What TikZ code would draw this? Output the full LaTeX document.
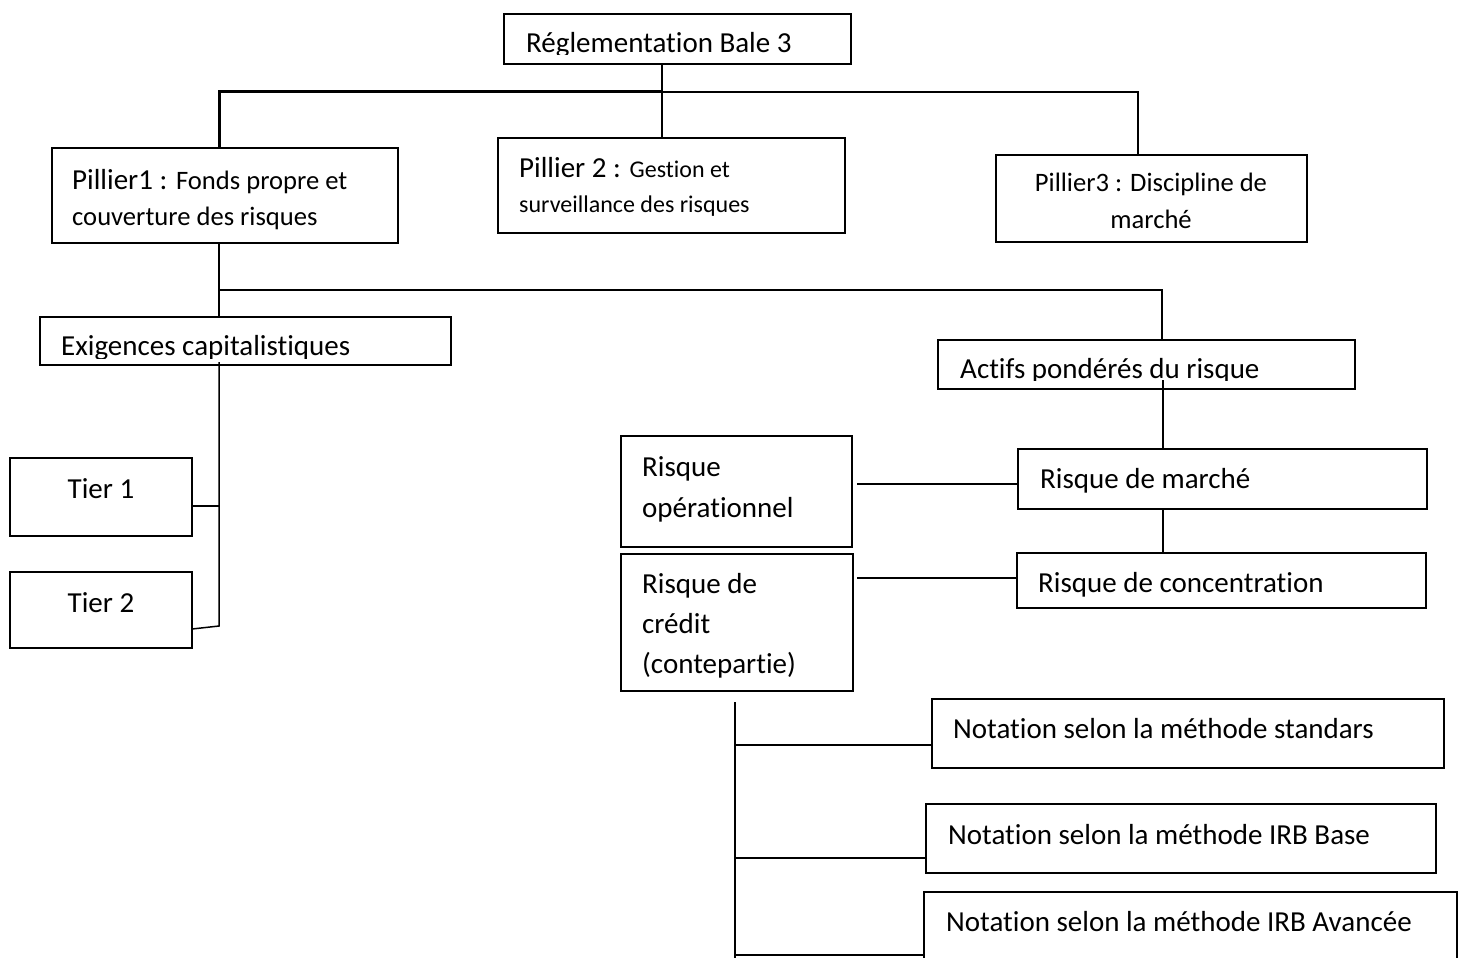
\documentclass[tikz,border=0pt]{standalone}
\usepackage{fontspec}
\setmainfont{Carlito}[Ligatures=CommonOff]
% box given by its corners: name, x1, y1, x2, y2
\newcommand\rbox[5]{\node[box, minimum width={(#4-#2)*1pt}, minimum height={(#5-#3)*1pt}] (#1) at (#2,#3) {};}
% smaller sizes used inside the pillar labels
\newcommand\midsize[1]{{\fontsize{26.6}{32}\selectfont #1}}
\newcommand\smlsize[1]{{\fontsize{24}{30}\selectfont #1}}
\begin{document}
\begin{tikzpicture}[x=1pt,y=-1pt,
  box/.style={draw, line width=1.5pt, inner sep=0pt, outer sep=0pt, anchor=north west},
  lbl/.style={anchor=base west, inner sep=0pt, font=\fontsize{29}{35}\selectfont},
  ctr/.style={lbl, anchor=base},
  link/.style={line width=1.5pt},
  bus/.style={line width=3pt}]
\clip (0,0) rectangle (1460,958);

% ---- boxes
\rbox{bale}{504}{14}{851}{64}
\rbox{p1}{52}{148}{398}{243}
\rbox{p2}{498}{138}{845}{233}
\rbox{p3}{996}{155}{1307}{242}
\rbox{exig}{40}{317}{451}{365}
\rbox{actifs}{938}{340}{1355}{389}
\rbox{tier1}{10}{458}{192}{536}
\rbox{tier2}{10}{572}{192}{648}
\rbox{marche}{1018}{449}{1427}{509}
\rbox{oper}{621}{436}{852}{547}
\rbox{conc}{1017}{553}{1426}{608}
\rbox{credit}{621}{554}{853}{691}
\rbox{std}{932}{699}{1444}{768}
\rbox{base}{926}{804}{1436}{873}
\rbox{avancee}{924}{892}{1457}{990}

% ---- labels (clipped where the text runs past its frame)
\begin{scope}
  \clip (504,14) rectangle (851,55);
  \node[lbl] (t-bale) at (526,53) {Réglementation Bale 3};
\end{scope}
\node[lbl] (t-p1a) at (72,189) {Pillier1 : \midsize{Fonds propre et}};
\node[lbl] (t-p1b) at (72,225) {\midsize{couverture des risques}};
\node[lbl] (t-p2a) at (519,177) {Pillier 2 : \smlsize{Gestion et}};
\node[lbl] (t-p2b) at (519,212) {\smlsize{surveillance des risques}};
\node[ctr] (t-p3a) at (1151,191) {\midsize{Pillier3 : Discipline de}};
\node[ctr] (t-p3b) at (1151,228) {\midsize{marché}};
\begin{scope}
  \clip (40,317) rectangle (451,358);
  \node[lbl] (t-exig) at (61,355) {Exigences capitalistiques};
\end{scope}
\begin{scope}
  \clip (938,340) rectangle (1355,380);
  \node[lbl] (t-actifs) at (960,378) {Actifs pondérés du risque};
\end{scope}
\node[ctr] (t-tier1) at (101,498) {Tier 1};
\node[ctr] (t-tier2) at (101,612) {Tier 2};
\node[lbl] (t-marche) at (1040,488) {Risque de marché};
\node[lbl] (t-oper1) at (642,476) {Risque};
\node[lbl] (t-oper2) at (642,517) {opérationnel};
\node[lbl] (t-conc) at (1038,592) {Risque de concentration};
\node[lbl] (t-cred1) at (642,593) {Risque de};
\node[lbl] (t-cred2) at (642,633) {crédit};
\node[lbl] (t-cred3) at (642,673) {(contepartie)};
\node[lbl] (t-std) at (953,738) {Notation selon la méthode standars};
\node[lbl] (t-base) at (948,844) {Notation selon la méthode IRB Base};
\node[lbl] (t-avancee) at (946,931) {Notation selon la méthode IRB Avancée};

% ---- junction points
\coordinate (j0) at (662,92);
\coordinate (jL) at (219,92);
\coordinate (jR) at (1138,92);
\coordinate (jA) at (219,290);
\coordinate (jB) at (1162,290);
\coordinate (ex-top) at (219,362);
\coordinate (t1j) at (219,506);
\coordinate (t2j) at (219,626);
\coordinate (t2e) at (192,629);
\coordinate (ac-bot) at (1163,380);
\coordinate (op-e) at (857,484);
\coordinate (cr-e) at (857,578);
\coordinate (cr-top) at (735,702);
\coordinate (cr-bot) at (735,958);
\coordinate (b1) at (735,745);
\coordinate (b2) at (735,858);
\coordinate (b3) at (735,955);

% ---- connectors
\draw[link] (bale.south -| j0) -- (j0);
\draw[bus] (p1.north -| jL) -- (jL) -- (j0);
\draw[link] (j0) -- (jR) -- (p3.north -| jR);
\draw[link] (j0) -- (p2.north -| j0);
\draw[link] (p1.south -| jA) -- (exig.north -| jA);
\draw[link] (jA) -- (jB) -- (actifs.north -| jB);
\draw[link] (ex-top) -- (t2j) -- (t2e);
\draw[link] (tier1.east |- t1j) -- (t1j);
\draw[link] (ac-bot) -- (marche.north -| ac-bot);
\draw[link] (marche.south -| ac-bot) -- (conc.north -| ac-bot);
\draw[link] (op-e) -- (marche.west |- op-e);
\draw[link] (cr-e) -- (conc.west |- cr-e);
\draw[link] (cr-top) -- (cr-bot);
\draw[link] (b1) -- (std.west |- b1);
\draw[link] (b2) -- (base.west |- b2);
\draw[link] (b3) -- (avancee.west |- b3);
\end{tikzpicture}
\end{document}
